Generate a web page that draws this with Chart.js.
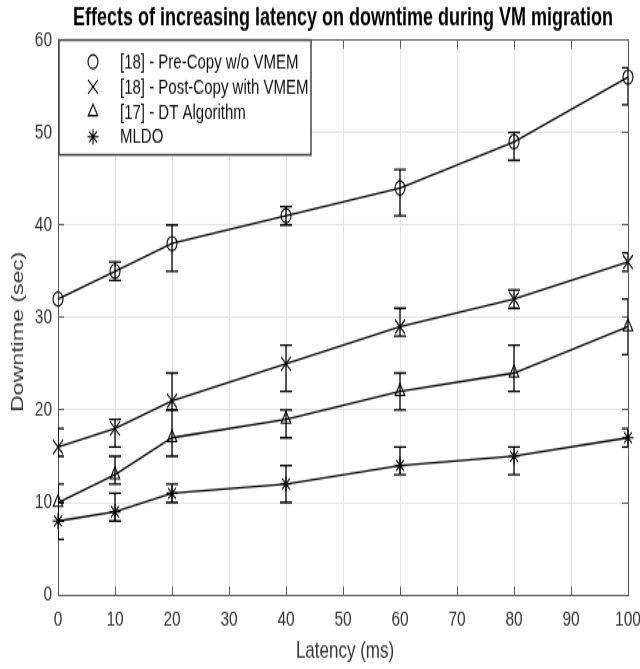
<!DOCTYPE html>
<html>
<head>
<meta charset="utf-8">
<title>Downtime vs latency</title>
<script src="https://cdn.jsdelivr.net/npm/chart.js@4.4.1/dist/chart.umd.min.js"></script>
<style>
  html { margin: 0; padding: 0; background: #fff; overflow: hidden; }
  body { margin: 0; padding: 0; background: #fff; width: 640px; height: 669px; }
  /* the plot is drawn on a shorter canvas and stretched vertically */
  #wrap { width: 640px; height: 478px; transform-origin: 0 0; transform: scaleY(1.3996); }
</style>
</head>
<body>
<div id="wrap"><canvas id="chart" width="640" height="478"></canvas></div>
<script>
const chartTitle = "Effects of increasing latency on downtime during VM migration";
const xTitle = "Latency (ms)";
const yTitle = "Downtime (sec)";

const latency = [0, 10, 20, 40, 60, 80, 100];
const seriesNames = ["[18] - Pre-Copy w/o VMEM", "[18] - Post-Copy with VMEM", "[17] - DT Algorithm", "MLDO"];

const preCopy     = [32, 35, 38, 41, 44, 49, 56];
const preCopyLow  = [32, 34, 35, 40, 41, 47, 53];
const preCopyHigh = [32, 36, 40, 42, 46, 50, 57];

const postCopy     = [16, 18, 21, 25, 29, 32, 36];
const postCopyLow  = [15, 16, 20, 22, 28, 31, 35];
const postCopyHigh = [18, 19, 24, 27, 31, 33, 37];

const dtAlgo     = [10, 13, 17, 19, 22, 24, 29];
const dtAlgoLow  = [8, 12, 15, 17, 20, 22, 26];
const dtAlgoHigh = [12, 15, 20, 20, 24, 27, 32];

const mldo     = [8, 9, 11, 12, 14, 15, 17];
const mldoLow  = [6, 8, 10, 10, 13, 13, 16];
const mldoHigh = [10, 11, 12, 14, 16, 16, 18];

const xTickStep = 10;
const yTickStep = 10;
const xRange = [0, 100];
const yRange = [0, 60];

const seriesValues = [preCopy, postCopy, dtAlgo, mldo];
const seriesLow = [preCopyLow, postCopyLow, dtAlgoLow, mldoLow];
const seriesHigh = [preCopyHigh, postCopyHigh, dtAlgoHigh, mldoHigh];
const markerStyles = ["circle", "crossRot", "triangle", "star"];
const markerSizes = [5, 7, 5.5, 5.5];

const FONT = "'Liberation Sans', Arial, Helvetica, sans-serif";
const AXIS_GREY = "#5a5a5a";
const TEXT_GREY = "#333";

const datasets = seriesValues.map((vals, i) => ({
    label: seriesNames[i],
    data: vals.map((v, j) => ({ x: latency[j], y: v })),
    borderColor: "#000",
    borderWidth: 1.3,
    tension: 0,
    fill: false,
    pointStyle: markerStyles[i],
    pointRadius: markerSizes[i],
    pointHoverRadius: markerSizes[i],
    pointBorderColor: "#000",
    pointBackgroundColor: "rgba(0,0,0,0)",
    pointBorderWidth: 1.1,
    clip: false
}));

// vertical error bars with caps, clipped to the axes box
const errorBars = {
    id: "errorBars",
    afterDatasetsDraw(chart) {
        const ctx = chart.ctx;
        const xs = chart.scales.x, ys = chart.scales.y;
        const area = chart.chartArea;
        ctx.save();
        ctx.beginPath();
        ctx.rect(area.left, area.top, area.right - area.left, area.bottom - area.top);
        ctx.clip();
        ctx.strokeStyle = "#000";
        ctx.lineWidth = 1.3;
        seriesValues.forEach((vals, i) => {
            vals.forEach((v, j) => {
                const lo = seriesLow[i][j], hi = seriesHigh[i][j];
                if (lo === hi) return;
                const px = xs.getPixelForValue(latency[j]);
                const pLo = ys.getPixelForValue(lo);
                const pHi = ys.getPixelForValue(hi);
                ctx.beginPath();
                ctx.moveTo(px, pLo); ctx.lineTo(px, pHi);
                ctx.moveTo(px - 6, pLo); ctx.lineTo(px + 6, pLo);
                ctx.moveTo(px - 6, pHi); ctx.lineTo(px + 6, pHi);
                ctx.stroke();
            });
        });
        ctx.restore();
    }
};

// title, axis titles and the boxed legend
const decorations = {
    id: "decorations",
    afterDraw(chart) {
        const ctx = chart.ctx;
        const area = chart.chartArea;
        const cx = (area.left + area.right) / 2;
        ctx.save();
        ctx.fillStyle = "#000";
        ctx.font = "bold 18px " + FONT;
        ctx.textAlign = "center";
        ctx.textBaseline = "alphabetic";
        ctx.fillText(chartTitle, cx, 18);

        ctx.fillStyle = TEXT_GREY;
        ctx.font = "17px " + FONT;
        ctx.fillText(xTitle, cx + 2, 470);

        ctx.save();
        ctx.font = "16.5px " + FONT;
        ctx.translate(18, 237);
        ctx.rotate(-Math.PI / 2);
        ctx.textBaseline = "middle";
        ctx.fillText(yTitle, 0, 0);
        ctx.restore();

        // legend
        const lx = area.left + 1, ly = area.top, lw = 252, lh = 82;
        ctx.fillStyle = "#fff";
        ctx.fillRect(lx, ly, lw, lh);
        ctx.strokeStyle = "#444";
        ctx.lineWidth = 1.5;
        ctx.strokeRect(lx, ly, lw, lh);
        ctx.textAlign = "left";
        ctx.textBaseline = "middle";
        ctx.font = "15px " + FONT;
        seriesNames.forEach((name, i) => {
            const y = ly + 15.5 + i * 17.9;
            ctx.strokeStyle = "#000";
            ctx.fillStyle = "rgba(0,0,0,0)";
            ctx.lineWidth = 1.1;
            Chart.helpers.drawPoint(ctx, {
                pointStyle: markerStyles[i],
                radius: markerSizes[i],
                borderWidth: 1.1,
                rotation: 0
            }, lx + 34, y);
            ctx.fillStyle = "#111";
            ctx.fillText(name, lx + 61, y + 0.5);
        });
        ctx.restore();
    }
};

const tickFont = { family: FONT, size: 15.5 };

new Chart(document.getElementById("chart"), {
    type: "line",
    data: { datasets },
    options: {
        responsive: false,
        animation: false,
        events: [],
        layout: { padding: { top: 28.6, right: 12, left: 0, bottom: 0 } },
        plugins: {
            legend: { display: false },
            title: { display: false },
            tooltip: { enabled: false }
        },
        scales: {
            x: {
                type: "linear",
                position: "bottom",
                min: xRange[0],
                max: xRange[1],
                ticks: { stepSize: xTickStep, font: tickFont, color: TEXT_GREY, padding: 14 },
                grid: { color: "#e4e4e4", lineWidth: 1, tickLength: -6, tickColor: AXIS_GREY },
                border: { color: AXIS_GREY, width: 1 },
                afterFit(s) { s.height = 52.9; s.paddingLeft = 0; s.paddingRight = 0; }
            },
            x2: {
                type: "linear",
                axis: "x",
                position: "top",
                min: xRange[0],
                max: xRange[1],
                ticks: { stepSize: xTickStep, display: false },
                grid: { drawOnChartArea: false, tickLength: -6, tickColor: AXIS_GREY },
                border: { color: AXIS_GREY, width: 1 },
                afterFit(s) { s.height = 0; s.paddingLeft = 0; s.paddingRight = 0; }
            },
            y: {
                type: "linear",
                position: "left",
                min: yRange[0],
                max: yRange[1],
                ticks: { stepSize: yTickStep, font: tickFont, color: TEXT_GREY, padding: 12 },
                grid: { color: "#e4e4e4", lineWidth: 1, tickLength: -6, tickColor: AXIS_GREY },
                border: { color: AXIS_GREY, width: 1 },
                afterFit(s) { s.width = 58; s.paddingTop = 0; s.paddingBottom = 0; }
            },
            y2: {
                type: "linear",
                axis: "y",
                position: "right",
                min: yRange[0],
                max: yRange[1],
                ticks: { stepSize: yTickStep, display: false },
                grid: { drawOnChartArea: false, tickLength: -6, tickColor: AXIS_GREY },
                border: { color: AXIS_GREY, width: 1 },
                afterFit(s) { s.width = 0; s.paddingTop = 0; s.paddingBottom = 0; }
            }
        }
    },
    plugins: [errorBars, decorations]
});
</script>
</body>
</html>
